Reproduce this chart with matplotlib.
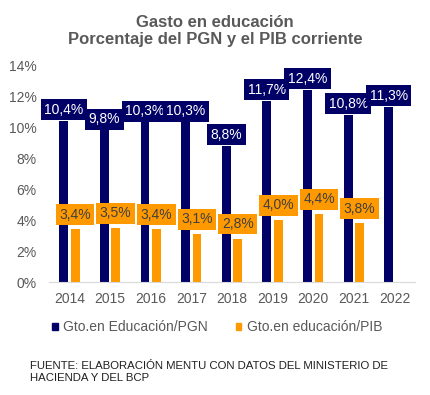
import matplotlib
matplotlib.use("Agg")
import matplotlib.pyplot as plt
import numpy as np
from matplotlib.patches import Patch

years = ["2014", "2015", "2016", "2017", "2018", "2019", "2020", "2021", "2022"]
pgn = [10.4, 9.8, 10.3, 10.3, 8.8, 11.7, 12.4, 10.8, 11.3]
pib = [3.4, 3.5, 3.4, 3.1, 2.8, 4.0, 4.4, 3.8, None]
yticks = [0, 2, 4, 6, 8, 10, 12, 14]

NAVY = "#000066"
ORANGE = "#FF9900"
GRAY = "#595959"

plt.rcParams['font.family'] = ['Liberation Sans', 'DejaVu Sans']

fig = plt.figure(figsize=(4.3, 3.95), dpi=100)
ax = fig.add_axes([0.114, 0.286, 0.851, 0.549])

x = np.arange(len(years))
w = 0.22
off = 0.14
ax.bar(x - off, pgn, width=w, color=NAVY)
px = [xi + off for xi, v in zip(x, pib) if v is not None]
pv = [v for v in pib if v is not None]
ax.bar(px, pv, width=w, color=ORANGE)

for xi, v in zip(x, pgn):
    ax.annotate(f"{v:.1f}".replace(".", ",") + "%", (xi - off, v), xytext=(0, 3),
                textcoords="offset points", ha="center", va="bottom", color="white",
                fontsize=10, bbox=dict(boxstyle="square,pad=0.25", fc=NAVY, ec="none"))
for xi, v in zip(px, pv):
    ax.annotate(f"{v:.1f}".replace(".", ",") + "%", (xi, v), xytext=(0, 5.5),
                textcoords="offset points", ha="center", va="bottom", color="#404040",
                fontsize=10, bbox=dict(boxstyle="square,pad=0.25", fc=ORANGE, ec="none"))

ax.set_xlim(-0.5, len(years) - 0.5)
ax.set_ylim(0, 14)
ax.set_yticks(yticks)
ax.set_yticklabels([f"{t}%" for t in yticks])
ax.set_xticks(x)
ax.set_xticklabels(years)
ax.tick_params(length=0, colors=GRAY, labelsize=10)
ax.tick_params(axis="y", pad=9)
ax.tick_params(axis="x", pad=7)
for s in ["top", "right", "left"]:
    ax.spines[s].set_visible(False)
ax.spines["bottom"].set_color("#D9D9D9")

fig.text(0.5, 0.962, "Gasto en educación\nPorcentaje del PGN y el PIB corriente",
         ha="center", va="top", fontsize=12, fontweight="bold", color=GRAY, linespacing=1.15)

handles = [Patch(color=NAVY, label="Gto.en Educación/PGN"),
           Patch(color=ORANGE, label="Gto.en educación/PIB")]
fig.legend(handles=handles, loc="center", bbox_to_anchor=(0.505, 0.172), ncol=2, frameon=False,
           fontsize=10, handlelength=0.4, handleheight=0.4, handletextpad=0.4,
           columnspacing=2.0, labelcolor=GRAY)

fig.text(0.07, 0.058, "FUENTE: ELABORACIÓN MENTU CON DATOS DEL MINISTERIO DE\nHACIENDA Y DEL BCP",
         ha="left", va="center", fontsize=8.2, color="#202020", linespacing=1.3)

fig.savefig("out.png", dpi=100)
